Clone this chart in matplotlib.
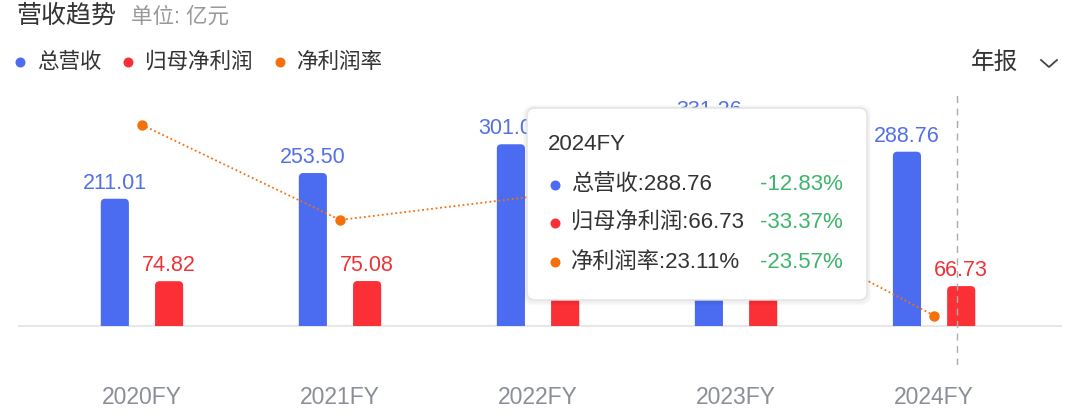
import matplotlib
matplotlib.use("Agg")
import matplotlib.pyplot as plt
from matplotlib.patches import FancyBboxPatch, Rectangle
from matplotlib.lines import Line2D

# data (亿元 / %)
years = ["2020FY", "2021FY", "2022FY", "2023FY", "2024FY"]
revenue = [211.01, 253.50, 301.05, 331.26, 288.76]
profit = [74.82, 75.08, 93.78, 100.15, 66.73]
margin = [36.25, 29.70, 31.35, 30.24, 23.11]

tip_year = "2024FY"
tip_names = ["总营收", "归母净利润", "净利润率"]
tip_values = ["288.76", "66.73", "23.11%"]
tip_yoy = ["-12.83%", "-33.37%", "-23.57%"]

BLUE = "#4B6CF0"
RED = "#FB2F36"
ORANGE = "#F5700A"
BLUE_TXT = "#5470E6"
RED_TXT = "#EE3338"
GREEN = "#3DB56A"
DARK = "#333333"
GRAY = "#999999"

FONT = ["Liberation Sans", "Noto Sans CJK SC", "DejaVu Sans"]
plt.rcParams["font.family"] = FONT

W, H = 1080, 420
fig = plt.figure(figsize=(W / 100, H / 100), dpi=100)


def fx(px):
    return px / W


def fy(py):
    return 1 - py / H


def dot(x, y, color, z=2):
    fig.lines.append(Line2D([fx(x)], [fy(y)], transform=fig.transFigure, marker="o",
                            ms=7.2, mec="none", color=color, zorder=z))


# plot area: x 18..1062, y 93..365 (pixels from top)
ax = fig.add_axes([fx(18), fy(365), (1062 - 18) / W, (365 - 93) / H])
ax2 = ax.twinx()

n = len(years)
xs = list(range(n))
bw = 0.142
off = 0.137

ax.set_xlim(-0.626, 4.646)
ax.set_ylim(-63.6, 385.7)
ax2.set_ylim(19.70, 38.45)

# rounded top bars, clipped at the zero line
px_x = 1 / 198.0
px_y = 1 / 0.6054
r_px = 4.5
clip = Rectangle((-1, 0), 10, 1000, transform=ax.transData)


def rounded_bars(xpos, vals, color):
    for x, v in zip(xpos, vals):
        p = FancyBboxPatch((x - bw / 2, -r_px * px_y * 2), bw, v + r_px * px_y * 2,
                           boxstyle="round,pad=0,rounding_size=%f" % (r_px * px_x),
                           mutation_aspect=px_y / px_x,
                           fc=color, ec="none", zorder=2)
        ax.add_patch(p)
        p.set_clip_path(clip)


rounded_bars([x - off for x in xs], revenue, BLUE)
rounded_bars([x + off for x in xs], profit, RED)

for x, v in zip(xs, revenue):
    ax.annotate("%.2f" % v, (x - off, v), xytext=(0, 11.2), textcoords="offset points",
                ha="center", va="center", fontsize=15.5, color=BLUE_TXT, zorder=3)
for x, v in zip(xs, profit):
    ax.annotate("%.2f" % v, (x + off, v), xytext=(0, 11.2), textcoords="offset points",
                ha="center", va="center", fontsize=15.5, color=RED_TXT, zorder=3)

ax.axhline(0, color="#E3E3E3", lw=1.2, zorder=1)
ax.axvline(4 + 23 / 198.0, color="#ABABAB", lw=1, ls=(0, (5, 4)), zorder=4)

ax2.plot(xs, margin, color=ORANGE, lw=1.3, ls=(0, (1, 1.5)), zorder=3)
ax2.plot(xs, margin, "o", color=ORANGE, ms=7.5, mec="none", zorder=4)

ax.set_xticks(xs)
ax.set_xticklabels(years, fontsize=16.5, color="#8A8E96")
ax.tick_params(axis="x", length=0, pad=15)
ax.set_yticks([])
ax2.set_yticks([])
for a in (ax, ax2):
    for s in a.spines.values():
        s.set_visible(False)
    a.patch.set_visible(False)

# header
fig.text(fx(16), fy(16), "营收趋势", fontsize=18, color=DARK, va="center", ha="left")
fig.text(fx(131), fy(17), "单位: 亿元", fontsize=15.5, color=GRAY, va="center", ha="left")

legend_items = [(20, 37, "总营收", BLUE), (128, 145, "归母净利润", RED), (280, 297, "净利润率", ORANGE)]
for dx, tx, name, c in legend_items:
    dot(dx, 62, c)
    fig.text(fx(tx), fy(62), name, fontsize=15.5, color=DARK, va="center", ha="left")

fig.text(fx(971), fy(64), "年报", fontsize=17, color=DARK, va="center", ha="left")
fig.lines.append(Line2D([fx(1041), fx(1049), fx(1057)], [fy(60), fy(67), fy(60)],
                        transform=fig.transFigure, color="#444444", lw=1.3))

# tooltip
tl, tt, tr, tb = 527, 108, 867, 300
for i, a in enumerate([0.025, 0.02, 0.015]):
    g = 4 - i
    fig.patches.append(FancyBboxPatch((fx(tl - g), fy(tb + g + 1)), fx(tr - tl + 2 * g),
                                      (tb - tt + 2 * g) / H,
                                      boxstyle="round,pad=0,rounding_size=%f" % fx(10),
                                      mutation_aspect=W / H,
                                      transform=fig.transFigure, fc="black", ec="none",
                                      alpha=a, zorder=9))
fig.patches.append(FancyBboxPatch((fx(tl), fy(tb)), fx(tr - tl), (tb - tt) / H,
                                  boxstyle="round,pad=0,rounding_size=%f" % fx(8),
                                  mutation_aspect=W / H,
                                  transform=fig.transFigure, fc="white", ec="#E2E2E2",
                                  lw=1, zorder=10))
fig.text(fx(548), fy(145), tip_year, fontsize=16, color=DARK, va="center", ha="left",
         zorder=11)
row_y = [185, 223, 262]
row_c = [BLUE, RED, ORANGE]
for yy, c, nm, val, yoy in zip(row_y, row_c, tip_names, tip_values, tip_yoy):
    dot(555, yy, c, z=11)
    fig.text(fx(571), fy(yy), "%s:%s" % (nm, val), fontsize=16, color=DARK,
             va="center", ha="left", zorder=11)
    fig.text(fx(843), fy(yy), yoy, fontsize=16, color=GREEN, va="center", ha="right",
             zorder=11)

fig.savefig("out.png", dpi=100)
